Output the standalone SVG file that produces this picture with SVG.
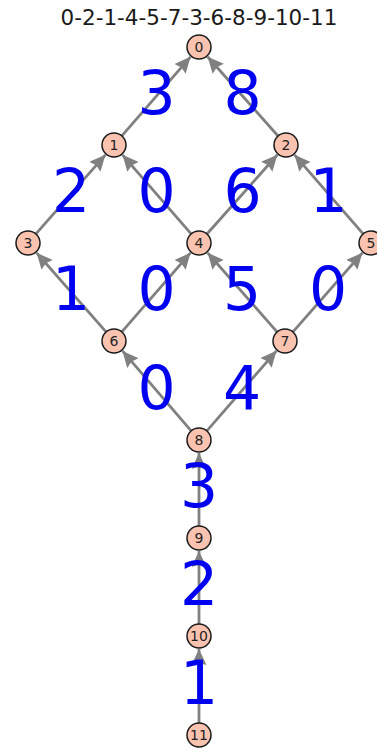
<svg xmlns="http://www.w3.org/2000/svg" width="377" height="748" viewBox="0 0 377 748">
<style>
.e{stroke:#808080;stroke-width:2.8;fill:none;marker-end:url(#ah)}
.n circle{fill:#f9c3b0;stroke:#1a1a1a;stroke-width:1.5}
.n text{font-family:"DejaVu Sans",sans-serif;font-size:14px;fill:#222;text-anchor:middle}
.l{font-family:"DejaVu Sans",sans-serif;font-size:60px;fill:#0000f0;text-anchor:middle}
.t{font-family:"DejaVu Sans",sans-serif;font-size:21.5px;fill:#1a1a1a;text-anchor:middle}
</style>
<defs>
<marker id="ah" markerUnits="userSpaceOnUse" markerWidth="18" markerHeight="16" refX="16" refY="7.5" orient="auto">
<path d="M0,0 L16,7.5 L0,15 L2,7.5 z" fill="#808080"/>
</marker>
</defs>
<text class="t" x="199" y="25">0-2-1-4-5-7-3-6-8-9-10-11</text>
<g id="edges">
<line class="e" x1="121.2" y1="136.7" x2="190.5" y2="56.8"/>
<line class="e" x1="278.7" y1="136.8" x2="207.6" y2="56.7"/>
<line class="e" x1="35.3" y1="234.7" x2="105.4" y2="154.8"/>
<line class="e" x1="191.8" y1="234.7" x2="122.5" y2="154.8"/>
<line class="e" x1="206.3" y1="234.8" x2="277.4" y2="154.7"/>
<line class="e" x1="363.8" y1="234.7" x2="294.5" y2="154.8"/>
<line class="e" x1="106.7" y1="332.7" x2="36.6" y2="252.8"/>
<line class="e" x1="121.2" y1="332.7" x2="190.5" y2="252.8"/>
<line class="e" x1="277.7" y1="332.7" x2="207.6" y2="252.8"/>
<line class="e" x1="292.3" y1="332.7" x2="362.4" y2="252.8"/>
<line class="e" x1="191.8" y1="431.7" x2="122.5" y2="350.9"/>
<line class="e" x1="206.2" y1="431.7" x2="276.5" y2="350.8"/>
<line class="e" x1="199" y1="527" x2="199" y2="453"/>
<line class="e" x1="199" y1="625" x2="199" y2="551"/>
<line class="e" x1="199" y1="724" x2="199" y2="649"/>
</g>
<g id="node0" class="n"><circle cx="199" cy="47" r="12"/><text x="199" y="52">0</text></g>
<g id="node1" class="n"><circle cx="114" cy="145" r="12"/><text x="114" y="150">1</text></g>
<g id="node2" class="n"><circle cx="286" cy="145" r="12"/><text x="286" y="150">2</text></g>
<g id="node3" class="n"><circle cx="28" cy="243" r="12"/><text x="28" y="248">3</text></g>
<g id="node4" class="n"><circle cx="199" cy="243" r="12"/><text x="199" y="248">4</text></g>
<g id="node5" class="n"><circle cx="371" cy="243" r="12"/><text x="371" y="248">5</text></g>
<g id="node6" class="n"><circle cx="114" cy="341" r="12"/><text x="114" y="346">6</text></g>
<g id="node7" class="n"><circle cx="285" cy="341" r="12"/><text x="285" y="346">7</text></g>
<g id="node8" class="n"><circle cx="199" cy="440" r="12"/><text x="199" y="445">8</text></g>
<g id="node9" class="n"><circle cx="199" cy="538" r="12"/><text x="199" y="543">9</text></g>
<g id="node10" class="n"><circle cx="199" cy="636" r="12"/><text x="199" y="641">10</text></g>
<g id="node11" class="n"><circle cx="199" cy="735" r="12"/><text x="199" y="740">11</text></g>
<g id="labels">
<text class="l" x="156.5" y="114">3</text>
<text class="l" x="242.5" y="114">8</text>
<text class="l" x="71" y="212">2</text>
<text class="l" x="156.5" y="212">0</text>
<text class="l" x="242.5" y="212">6</text>
<text class="l" x="328.5" y="212">1</text>
<text class="l" x="71" y="310">1</text>
<text class="l" x="156.5" y="310">0</text>
<text class="l" x="242" y="310">5</text>
<text class="l" x="328" y="310">0</text>
<text class="l" x="156.5" y="408.5">0</text>
<text class="l" x="242" y="408.5">4</text>
<text class="l" x="199" y="507">3</text>
<text class="l" x="199" y="605">2</text>
<text class="l" x="199" y="703.5">1</text>
</g>
</svg>
